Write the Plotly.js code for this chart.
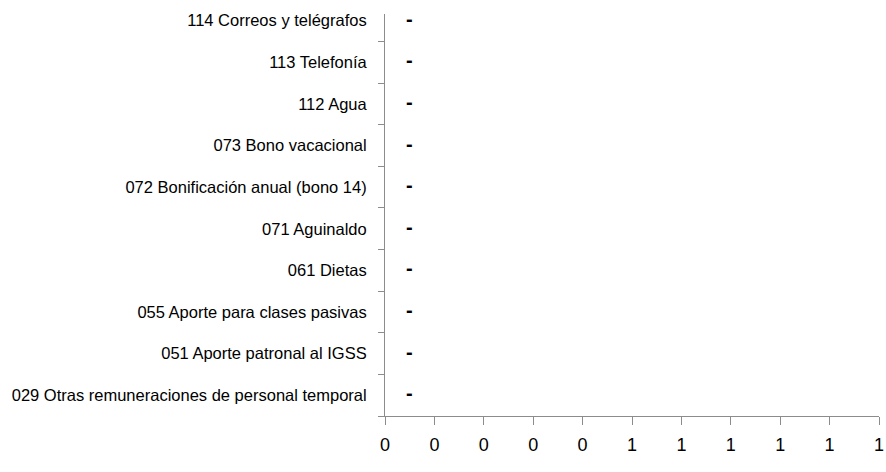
<!DOCTYPE html>
<html>
<head>
<meta charset="utf-8">
<script src="https://cdn.plot.ly/plotly-3.0.1.min.js"></script>
<style>html,body{margin:0;padding:0;background:#fff;}#chart{width:886px;height:472px;}</style>
</head>
<body>
<div id="chart"></div>
<script>
var categories = [
  "029 Otras remuneraciones de personal temporal",
  "051 Aporte patronal al IGSS",
  "055 Aporte para clases pasivas",
  "061 Dietas",
  "071 Aguinaldo",
  "072 Bonificación anual (bono 14)",
  "073 Bono vacacional",
  "112 Agua",
  "113 Telefonía",
  "114 Correos y telégrafos"
];
var values = [0, 0, 0, 0, 0, 0, 0, 0, 0, 0];
var dataLabels = ["-", "-", "-", "-", "-", "-", "-", "-", "-", "-"];
var xTickVals = [0, 0.1, 0.2, 0.3, 0.4, 0.5, 0.6, 0.7, 0.8, 0.9, 1];
var xTickText = ["0", "0", "0", "0", "0", "1", "1", "1", "1", "1", "1"];

var FONT = "Liberation Sans, Arial, sans-serif";
var AXIS = "#8c8c8c";

var traces = [
  {
    type: "bar",
    orientation: "h",
    x: values,
    y: categories,
    marker: {color: "#4f81bd", line: {width: 0}},
    hoverinfo: "skip",
    showlegend: false
  },
  {
    type: "scatter",
    mode: "markers+text",
    x: values,
    y: categories,
    text: dataLabels,
    textposition: "middle right",
    textfont: {family: FONT, size: 20, color: "#000", weight: "bold"},
    marker: {size: 32, color: "rgba(0,0,0,0)"},
    cliponaxis: false,
    hoverinfo: "skip",
    showlegend: false
  }
];

var layout = {
  width: 886,
  height: 472,
  margin: {l: 385, r: 7, t: 14, b: 56},
  paper_bgcolor: "#ffffff",
  plot_bgcolor: "#ffffff",
  showlegend: false,
  xaxis: {
    range: [0, 1],
    tickmode: "array",
    tickvals: xTickVals,
    ticktext: xTickText,
    ticks: "outside",
    ticklen: 8,
    tickcolor: AXIS,
    tickwidth: 1,
    showline: true,
    linecolor: AXIS,
    linewidth: 1,
    showgrid: false,
    zeroline: false,
    ticklabelstandoff: 4,
    tickfont: {family: FONT, size: 18, color: "#000"},
    fixedrange: true
  },
  yaxis: {
    type: "category",
    categoryorder: "array",
    categoryarray: categories,
    range: [-0.5, 9.16],
    ticks: "outside",
    tickson: "boundaries",
    ticklen: 6,
    tickcolor: AXIS,
    tickwidth: 1,
    showline: true,
    linecolor: AXIS,
    linewidth: 1,
    showgrid: false,
    zeroline: false,
    ticklabelstandoff: 14,
    tickfont: {family: FONT, size: 16.5, color: "#000"},
    fixedrange: true
  }
};

Plotly.newPlot("chart", traces, layout, {displayModeBar: false, staticPlot: true});
</script>
</body>
</html>
